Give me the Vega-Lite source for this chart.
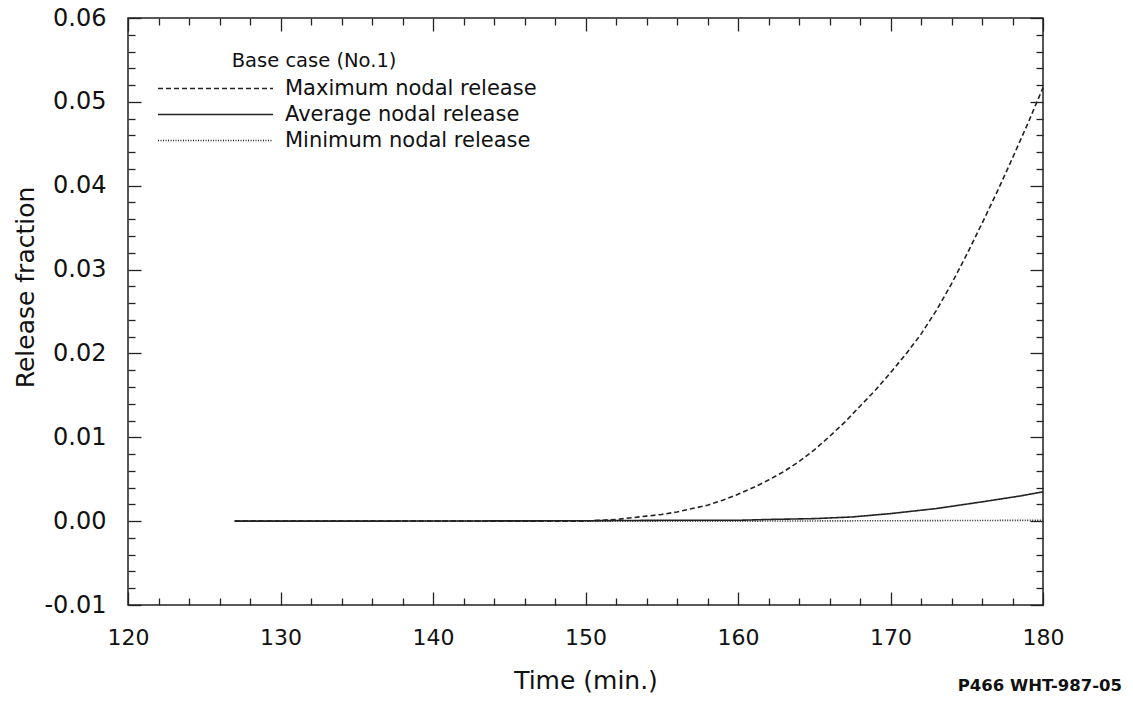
{
  "$schema": "https://vega.github.io/schema/vega-lite/v6.json",
  "autosize": "none",
  "width": 915,
  "height": 587,
  "padding": {"left": 128, "top": 18, "right": 90, "bottom": 96},
  "background": "white",
  "config": {
    "font": "DejaVu Sans",
    "view": {"stroke": "#222", "strokeWidth": 1.5},
    "axis": {"domain": false, "grid": false, "tickColor": "#222", "tickWidth": 1.3, "labelColor": "#111", "titleColor": "#111", "labelFont": "DejaVu Sans", "titleFont": "DejaVu Sans", "titleFontWeight": "normal", "labelFlush": false}
  },
  "title": {"text": "P466 WHT-987-05", "orient": "bottom", "anchor": "end", "fontSize": 16.5, "fontWeight": "bold", "font": "DejaVu Sans", "color": "#111", "dx": 58, "offset": -15},
  "data": {"values": [
    {"t": 127, "v": 0, "s": "Maximum nodal release"},
    {"t": 140, "v": 0, "s": "Maximum nodal release"},
    {"t": 150, "v": 0, "s": "Maximum nodal release"},
    {"t": 151, "v": 0.0001, "s": "Maximum nodal release"},
    {"t": 152, "v": 0.0002, "s": "Maximum nodal release"},
    {"t": 153, "v": 0.0004, "s": "Maximum nodal release"},
    {"t": 154, "v": 0.0006, "s": "Maximum nodal release"},
    {"t": 155, "v": 0.0008, "s": "Maximum nodal release"},
    {"t": 156, "v": 0.0011, "s": "Maximum nodal release"},
    {"t": 157, "v": 0.0015, "s": "Maximum nodal release"},
    {"t": 158, "v": 0.0019, "s": "Maximum nodal release"},
    {"t": 159, "v": 0.0025, "s": "Maximum nodal release"},
    {"t": 160, "v": 0.0032, "s": "Maximum nodal release"},
    {"t": 161, "v": 0.0040, "s": "Maximum nodal release"},
    {"t": 162, "v": 0.0049, "s": "Maximum nodal release"},
    {"t": 163, "v": 0.0059, "s": "Maximum nodal release"},
    {"t": 164, "v": 0.0071, "s": "Maximum nodal release"},
    {"t": 165, "v": 0.0085, "s": "Maximum nodal release"},
    {"t": 166, "v": 0.0101, "s": "Maximum nodal release"},
    {"t": 167, "v": 0.0118, "s": "Maximum nodal release"},
    {"t": 168, "v": 0.0137, "s": "Maximum nodal release"},
    {"t": 169, "v": 0.0156, "s": "Maximum nodal release"},
    {"t": 170, "v": 0.0177, "s": "Maximum nodal release"},
    {"t": 171, "v": 0.0199, "s": "Maximum nodal release"},
    {"t": 172, "v": 0.0223, "s": "Maximum nodal release"},
    {"t": 173, "v": 0.0251, "s": "Maximum nodal release"},
    {"t": 174, "v": 0.0283, "s": "Maximum nodal release"},
    {"t": 175, "v": 0.0318, "s": "Maximum nodal release"},
    {"t": 176, "v": 0.0355, "s": "Maximum nodal release"},
    {"t": 177, "v": 0.0393, "s": "Maximum nodal release"},
    {"t": 178, "v": 0.0433, "s": "Maximum nodal release"},
    {"t": 179, "v": 0.0474, "s": "Maximum nodal release"},
    {"t": 180, "v": 0.0517, "s": "Maximum nodal release"},
    {"t": 127, "v": 0, "s": "Average nodal release"},
    {"t": 135, "v": 0, "s": "Average nodal release"},
    {"t": 145, "v": 0.00003, "s": "Average nodal release"},
    {"t": 150, "v": 0.00005, "s": "Average nodal release"},
    {"t": 155, "v": 0.0001, "s": "Average nodal release"},
    {"t": 160, "v": 0.0001, "s": "Average nodal release"},
    {"t": 162, "v": 0.0002, "s": "Average nodal release"},
    {"t": 165, "v": 0.0003, "s": "Average nodal release"},
    {"t": 167.5, "v": 0.0005, "s": "Average nodal release"},
    {"t": 170, "v": 0.0009, "s": "Average nodal release"},
    {"t": 173, "v": 0.0015, "s": "Average nodal release"},
    {"t": 176, "v": 0.0023, "s": "Average nodal release"},
    {"t": 178.5, "v": 0.0030, "s": "Average nodal release"},
    {"t": 180, "v": 0.0035, "s": "Average nodal release"},
    {"t": 127, "v": 0, "s": "Minimum nodal release"},
    {"t": 150, "v": 0, "s": "Minimum nodal release"},
    {"t": 160, "v": 0, "s": "Minimum nodal release"},
    {"t": 170, "v": 0.00005, "s": "Minimum nodal release"},
    {"t": 180, "v": 0.0001, "s": "Minimum nodal release"}
  ]},
  "resolve": {"axis": {"x": "independent", "y": "independent"}},
  "layer": [
    {
      "mark": {"type": "line", "color": "#222", "strokeWidth": 1.6},
      "encoding": {
        "x": {"field": "t", "type": "quantitative", "scale": {"domain": [120, 180], "nice": false, "zero": false},
          "axis": {"orient": "bottom", "values": [120, 130, 140, 150, 160, 170, 180], "tickSize": -13, "labelPadding": 35, "labelFontSize": 22, "title": "Time (min.)", "titleFontSize": 25, "titlePadding": 20}},
        "y": {"field": "v", "type": "quantitative", "scale": {"domain": [-0.01, 0.06], "nice": false, "zero": false},
          "axis": {"orient": "left", "values": [-0.01, 0, 0.01, 0.02, 0.03, 0.04, 0.05, 0.06], "format": ".2f", "labelExpr": "replace(datum.label, '\u2212', '-')", "tickSize": -13, "labelPadding": 35, "labelFontSize": 24, "title": "Release fraction", "titleFontSize": 25, "titleX": -103, "titleY": 269, "titleBaseline": "middle", "titleAlign": "center", "titleAngle": -90}},
        "strokeDash": {"field": "s", "type": "nominal",
          "scale": {"domain": ["Maximum nodal release", "Average nodal release", "Minimum nodal release"], "range": [[5, 3], [1, 0], [1, 1.5]]},
          "legend": {"orient": "none", "legendX": 75, "legendY": 58, "title": null, "symbolType": "M-5,0H5", "symbolSize": 529, "symbolStrokeWidth": 1.4, "symbolStrokeColor": "#222", "symbolFillColor": "transparent", "labelFontSize": 21, "labelFont": "DejaVu Sans", "labelColor": "#111", "labelOffset": 57, "labelLimit": 0, "rowPadding": 3}}
      }
    },
    {
      "mark": {"type": "point", "opacity": 0},
      "encoding": {
        "x": {"field": "t", "type": "quantitative", "axis": {"orient": "bottom", "values": [122, 124, 126, 128, 132, 134, 136, 138, 142, 144, 146, 148, 152, 154, 156, 158, 162, 164, 166, 168, 172, 174, 176, 178], "tickSize": -7, "labels": false, "title": null}},
        "y": {"field": "v", "type": "quantitative", "axis": {"orient": "left", "values": [-0.008, -0.006, -0.004, -0.002, 0.002, 0.004, 0.006, 0.008, 0.012, 0.014, 0.016, 0.018, 0.022, 0.024, 0.026, 0.028, 0.032, 0.034, 0.036, 0.038, 0.042, 0.044, 0.046, 0.048, 0.052, 0.054, 0.056, 0.058], "tickSize": -7, "labels": false, "title": null}}
      }
    },
    {
      "mark": {"type": "point", "opacity": 0},
      "encoding": {
        "x": {"field": "t", "type": "quantitative", "axis": {"orient": "top", "values": [120, 130, 140, 150, 160, 170, 180], "tickSize": -13, "labels": false, "title": null}},
        "y": {"field": "v", "type": "quantitative", "axis": {"orient": "right", "values": [-0.01, 0, 0.01, 0.02, 0.03, 0.04, 0.05, 0.06], "tickSize": -13, "labels": false, "title": null}}
      }
    },
    {
      "mark": {"type": "point", "opacity": 0},
      "encoding": {
        "x": {"field": "t", "type": "quantitative", "axis": {"orient": "top", "values": [122, 124, 126, 128, 132, 134, 136, 138, 142, 144, 146, 148, 152, 154, 156, 158, 162, 164, 166, 168, 172, 174, 176, 178], "tickSize": -7, "labels": false, "title": null}},
        "y": {"field": "v", "type": "quantitative", "axis": {"orient": "right", "values": [-0.008, -0.006, -0.004, -0.002, 0.002, 0.004, 0.006, 0.008, 0.012, 0.014, 0.016, 0.018, 0.022, 0.024, 0.026, 0.028, 0.032, 0.034, 0.036, 0.038, 0.042, 0.044, 0.046, 0.048, 0.052, 0.054, 0.056, 0.058], "tickSize": -7, "labels": false, "title": null}}
      }
    },
    {
      "data": {"values": [{"label": "Base case (No.1)"}]},
      "mark": {"type": "text", "align": "left", "baseline": "alphabetic", "fontSize": 19.5, "font": "DejaVu Sans", "color": "#111"},
      "encoding": {
        "x": {"datum": 126.8, "type": "quantitative", "axis": null},
        "y": {"datum": 0.0541, "type": "quantitative", "axis": null},
        "text": {"field": "label"}
      }
    }
  ]
}
